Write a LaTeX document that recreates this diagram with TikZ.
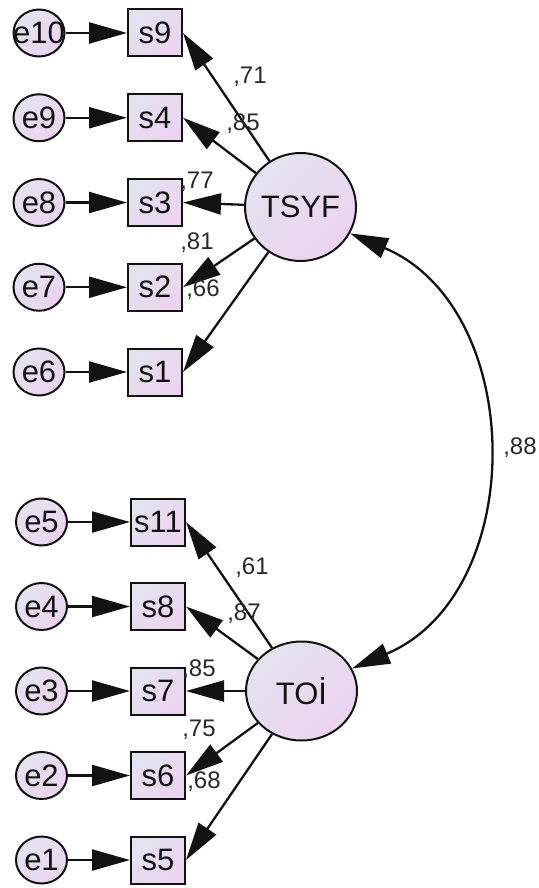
\documentclass[tikz,border=0pt]{standalone}
\usepackage{fontspec}
\setmainfont{Liberation Sans}
\usetikzlibrary{shapes.geometric,arrows.meta}

\definecolor{fillA}{RGB}{227,227,240}
\definecolor{fillB}{RGB}{237,211,240}
\definecolor{ink}{RGB}{18,18,18}
\definecolor{lblgray}{RGB}{40,40,40}

% centred text that does not widen its node
\newcommand\ztext[1]{\makebox[0pt]{#1}}

\begin{document}
\begin{tikzpicture}[x=1pt,y=1pt,
  shadedfill/.style={top color=fillA, bottom color=fillB, shading angle=45},
  obsbox/.style={rectangle, draw=ink, line width=2pt, shadedfill,
    minimum width=54pt, minimum height=47pt, inner sep=0pt,
    font=\fontsize{31}{31}\selectfont, text=ink},
  errnode/.style={ellipse, draw=ink, line width=2pt, shadedfill,
    minimum width=51pt, minimum height=47pt, inner sep=0pt,
    font=\fontsize{31}{31}\selectfont, text=ink},
  latnode/.style={ellipse, draw=ink, line width=2pt, shadedfill,
    minimum width=111pt, inner sep=0pt,
    font=\fontsize{31}{31}\selectfont, text=ink},
  link/.style={draw=ink, line width=2.3pt, -{Triangle[length=38pt,width=21pt]}},
  lbl/.style={font=\fontsize{24}{24}\selectfont, text=lblgray, inner sep=0pt}
]
\useasboundingbox (0,0) rectangle (538,-888);

% latent factors
\node[latnode, minimum height=108pt] (TSYF) at (300.5,-207) {\ztext{TSYF}};
\node[latnode, minimum height=99pt]  (TOI)  at (301.5,-691) {\ztext{TOİ}};

% TSYF indicators and their errors
\node[obsbox] (s9) at (155,-33)     {\ztext{s9}};
\node[obsbox] (s4) at (155,-117.75) {\ztext{s4}};
\node[obsbox] (s3) at (155,-202.5)  {\ztext{s3}};
\node[obsbox] (s2) at (155,-287.25) {\ztext{s2}};
\node[obsbox] (s1) at (155,-372)    {\ztext{s1}};

\node[errnode] (e10) at (39,-33)     {\ztext{e10}};
\node[errnode] (e9)  at (39,-117.75) {\ztext{e9}};
\node[errnode] (e8)  at (39,-202.5)  {\ztext{e8}};
\node[errnode] (e7)  at (39,-287.25) {\ztext{e7}};
\node[errnode] (e6)  at (39,-372)    {\ztext{e6}};

% TOİ indicators and their errors
\node[obsbox] (s11) at (158,-522)   {\ztext{s11}};
\node[obsbox] (s8)  at (158,-606.5) {\ztext{s8}};
\node[obsbox] (s7)  at (158,-691)   {\ztext{s7}};
\node[obsbox] (s6)  at (158,-775.5) {\ztext{s6}};
\node[obsbox] (s5)  at (158,-860)   {\ztext{s5}};

\node[errnode] (e5) at (41.5,-522)   {\ztext{e5}};
\node[errnode] (e4) at (41.5,-606.5) {\ztext{e4}};
\node[errnode] (e3) at (41.5,-691)   {\ztext{e3}};
\node[errnode] (e2) at (41.5,-775.5) {\ztext{e2}};
\node[errnode] (e1) at (41.5,-860)   {\ztext{e1}};

% error terms
\foreach \e/\s in {e10/s9,e9/s4,e8/s3,e7/s2,e6/s1,e5/s11,e4/s8,e3/s7,e2/s6,e1/s5}
  \draw[link] (\e) -- (\s);

% factor loadings
\foreach \s in {s9,s4,s3,s2,s1}
  \draw[link] (TSYF) -- (\s.east);
\foreach \s in {s11,s8,s7,s6,s5}
  \draw[link] (TOI) -- (\s.east);

% covariance between the factors
\draw[link, {Triangle[length=38pt,width=21pt]}-{Triangle[length=38pt,width=21pt]}]
  (TSYF.-28) to[out=-23, in=23, looseness=1.13] (TOI.24);

% loading and correlation values
\node[lbl] (l71) at (250,-77)  {,71};
\node[lbl] (l85) at (243,-124) {,85};
\node[lbl] (l77) at (197,-182) {,77};
\node[lbl] (l81) at (197,-243) {,81};
\node[lbl] (l66) at (203,-290) {,66};

\node[lbl] (l61)  at (252,-568) {,61};
\node[lbl] (l87)  at (244,-614) {,87};
\node[lbl] (l85b) at (199,-670) {,85};
\node[lbl] (l75)  at (199,-730) {,75};
\node[lbl] (l68)  at (204,-782) {,68};

\node[lbl] (l88) at (520,-448) {,88};
\end{tikzpicture}
\end{document}
